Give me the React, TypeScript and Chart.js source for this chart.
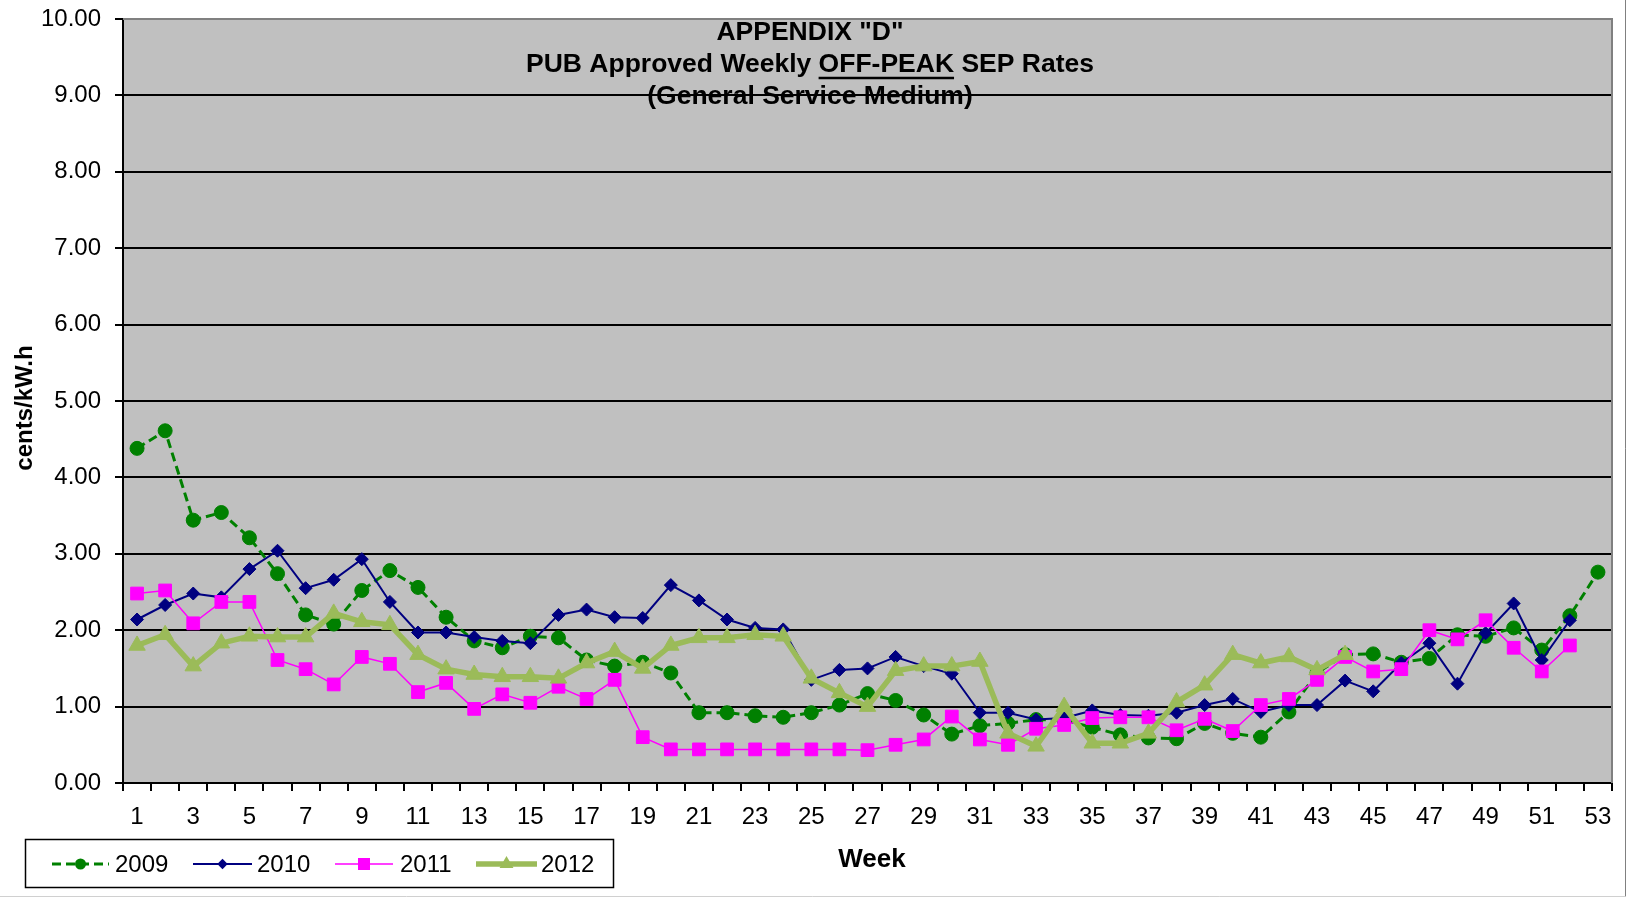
import React, { useEffect, useRef } from 'react';
import { Chart, registerables } from 'chart.js';

Chart.register(...registerables);

const FONT = "'Liberation Sans', Arial, Helvetica, sans-serif";

const weeks = ['1', '2', '3', '4', '5', '6', '7', '8', '9', '10', '11', '12', '13', '14', '15', '16', '17', '18', '19', '20', '21', '22', '23', '24', '25', '26', '27', '28', '29', '30', '31', '32', '33', '34', '35', '36', '37', '38', '39', '40', '41', '42', '43', '44', '45', '46', '47', '48', '49', '50', '51', '52', '53'];

const rates2009 = [4.38, 4.61, 3.44, 3.54, 3.21, 2.74, 2.20, 2.08, 2.52, 2.78, 2.56, 2.17, 1.86, 1.77, 1.92, 1.90, 1.61, 1.53, 1.58, 1.44, 0.92, 0.92, 0.88, 0.86, 0.92, 1.02, 1.17, 1.08, 0.89, 0.64, 0.75, 0.78, 0.83, 0.82, 0.73, 0.63, 0.59, 0.58, 0.78, 0.65, 0.60, 0.93, 1.44, 1.68, 1.69, 1.58, 1.63, 1.94, 1.92, 2.03, 1.74, 2.19, 2.76];
const rates2010 = [2.14, 2.33, 2.48, 2.43, 2.80, 3.04, 2.55, 2.66, 2.93, 2.37, 1.97, 1.97, 1.91, 1.86, 1.83, 2.20, 2.27, 2.17, 2.16, 2.59, 2.39, 2.14, 2.03, 2.01, 1.35, 1.48, 1.50, 1.65, 1.53, 1.43, 0.92, 0.92, 0.83, 0.85, 0.95, 0.89, 0.88, 0.92, 1.02, 1.10, 0.93, 1.02, 1.02, 1.34, 1.20, 1.57, 1.83, 1.30, 1.96, 2.35, 1.61, 2.13, null];
const rates2011 = [2.48, 2.52, 2.09, 2.37, 2.37, 1.61, 1.49, 1.29, 1.65, 1.56, 1.19, 1.31, 0.97, 1.16, 1.05, 1.26, 1.10, 1.35, 0.60, 0.44, 0.44, 0.44, 0.44, 0.44, 0.44, 0.44, 0.43, 0.50, 0.57, 0.87, 0.57, 0.50, 0.71, 0.76, 0.85, 0.86, 0.86, 0.69, 0.84, 0.68, 1.02, 1.10, 1.35, 1.65, 1.46, 1.49, 2.00, 1.88, 2.13, 1.77, 1.46, 1.80, null];
const rates2012 = [1.80, 1.94, 1.53, 1.83, 1.92, 1.91, 1.91, 2.22, 2.11, 2.07, 1.68, 1.49, 1.42, 1.39, 1.39, 1.37, 1.57, 1.72, 1.50, 1.80, 1.90, 1.90, 1.94, 1.92, 1.37, 1.18, 1.00, 1.47, 1.53, 1.53, 1.59, 0.65, 0.48, 1.00, 0.52, 0.52, 0.65, 1.06, 1.28, 1.68, 1.57, 1.65, 1.48, 1.68, null, null, null, null, null, null, null, null, null];

const seriesLabels = ['2009', '2010', '2011', '2012'];

const titleTop = 'APPENDIX "D"';
const titleMidA = 'PUB Approved Weekly ';
const titleMidB = 'OFF-PEAK';
const titleMidC = ' SEP Rates';
const titleBottom = '(General Service Medium)';
const yAxisTitle = 'cents/kW.h';
const xAxisTitle = 'Week';

function drawMarker(ctx: CanvasRenderingContext2D, style: string, x: number, y: number, r: number, color: string) {
  ctx.save();
  ctx.setLineDash([]);
  ctx.fillStyle = color;
  ctx.beginPath();
  if (style === 'circle') {
    ctx.arc(x, y, r, 0, Math.PI * 2);
  } else if (style === 'rectRot') {
    ctx.moveTo(x, y - r);
    ctx.lineTo(x + r, y);
    ctx.lineTo(x, y + r);
    ctx.lineTo(x - r, y);
    ctx.closePath();
  } else if (style === 'rect') {
    const s = r * Math.SQRT1_2;
    ctx.rect(x - s, y - s, 2 * s, 2 * s);
  } else if (style === 'triangle') {
    for (let i = 0; i < 3; i++) {
      const a = (i * 2 * Math.PI) / 3;
      const px = x + Math.sin(a) * r;
      const py = y - Math.cos(a) * r;
      if (i === 0) ctx.moveTo(px, py);
      else ctx.lineTo(px, py);
    }
    ctx.closePath();
  }
  ctx.fill();
  ctx.restore();
}

const backgroundPlugin = {
  id: 'bgPlot',
  beforeDraw(chart: any) {
    const { ctx, chartArea, width, height } = chart;
    ctx.save();
    ctx.fillStyle = '#ffffff';
    ctx.fillRect(0, 0, width, height);
    ctx.fillStyle = '#C0C0C0';
    ctx.fillRect(chartArea.left, chartArea.top, chartArea.right - chartArea.left, chartArea.bottom - chartArea.top);
    ctx.restore();
  },
  beforeDatasetsDraw(chart: any) {
    const { ctx, chartArea } = chart;
    ctx.save();
    ctx.strokeStyle = '#808080';
    ctx.lineWidth = 2;
    ctx.beginPath();
    ctx.moveTo(chartArea.left, chartArea.top);
    ctx.lineTo(chartArea.right, chartArea.top);
    ctx.lineTo(chartArea.right, chartArea.bottom);
    ctx.stroke();
    ctx.restore();
  },
};

const legendMarkerRadius = [5.5, 5.2, 8.5, 8];
const legendSlots = [
  { x0: 52, x1: 109, tx: 115 },
  { x0: 193, x1: 252, tx: 257 },
  { x0: 335, x1: 393, tx: 400 },
  { x0: 476, x1: 537, tx: 541 },
];

const overlayPlugin = {
  id: 'overlay',
  afterDraw(chart: any) {
    const { ctx, width, height } = chart;
    ctx.save();
    // outer chart border
    ctx.strokeStyle = '#808080';
    ctx.lineWidth = 1;
    ctx.beginPath();
    ctx.moveTo(width - 1.5, 0);
    ctx.lineTo(width - 1.5, height - 1.5);
    ctx.stroke();
    ctx.strokeStyle = '#D0D0D0';
    ctx.beginPath();
    ctx.moveTo(0, height - 1.5);
    ctx.lineTo(width - 1.5, height - 1.5);
    ctx.stroke();

    // title inside plot
    ctx.fillStyle = '#000';
    ctx.font = `bold 26.5px ${FONT}`;
    ctx.textBaseline = 'middle';
    ctx.textAlign = 'center';
    const cx = 810;
    ctx.fillText(titleTop, cx, 33);
    const wa = ctx.measureText(titleMidA).width;
    const wb = ctx.measureText(titleMidB).width;
    const wc = ctx.measureText(titleMidC).width;
    const start = cx - (wa + wb + wc) / 2;
    ctx.textAlign = 'left';
    ctx.fillText(titleMidA, start, 65);
    ctx.fillText(titleMidB, start + wa, 65);
    ctx.fillText(titleMidC, start + wa + wb, 65);
    ctx.strokeStyle = '#000';
    ctx.lineWidth = 2.5;
    ctx.beginPath();
    ctx.moveTo(start + wa, 78);
    ctx.lineTo(start + wa + wb, 78);
    ctx.stroke();
    ctx.textAlign = 'center';
    ctx.fillText(titleBottom, cx, 97);

    // axis titles
    ctx.font = `bold 26px ${FONT}`;
    ctx.textAlign = 'center';
    ctx.textBaseline = 'middle';
    ctx.fillText(xAxisTitle, 872, 860);
    ctx.save();
    ctx.translate(25, 408);
    ctx.rotate(-Math.PI / 2);
    ctx.font = `bold 24px ${FONT}`;
    ctx.fillText(yAxisTitle, 0, 0);
    ctx.restore();

    // legend
    ctx.strokeStyle = '#000';
    ctx.lineWidth = 1.5;
    ctx.strokeRect(25.5, 839.5, 588, 48);
    const ly = 864;
    ctx.font = `24px ${FONT}`;
    ctx.textAlign = 'left';
    ctx.textBaseline = 'middle';
    chart.data.datasets.forEach((ds: any, i: number) => {
      const it = legendSlots[i];
      ctx.save();
      ctx.strokeStyle = ds.borderColor;
      ctx.lineWidth = ds.borderWidth;
      ctx.setLineDash(ds.borderDash || []);
      ctx.beginPath();
      ctx.moveTo(it.x0, ly);
      ctx.lineTo(it.x1, ly);
      ctx.stroke();
      ctx.restore();
      drawMarker(ctx, ds.pointStyle, (it.x0 + it.x1) / 2, ly, legendMarkerRadius[i], ds.borderColor);
      ctx.fillStyle = '#000';
      ctx.fillText(ds.label, it.tx, ly + 1);
    });
    ctx.restore();
  },
};

export default function App() {
  const ref = useRef<HTMLCanvasElement>(null);
  useEffect(() => {
    document.body.style.margin = '0';
    const canvas = ref.current;
    if (!canvas) return;
    const chart = new Chart(canvas, {
      type: 'line',
      data: {
        labels: weeks,
        datasets: [
          {
            label: seriesLabels[0],
            data: rates2009,
            borderColor: '#008000',
            backgroundColor: '#008000',
            borderWidth: 3,
            borderDash: [9, 5],
            pointStyle: 'circle',
            pointRadius: 7,
            pointBorderWidth: 1,
            pointBackgroundColor: '#008000',
            pointBorderColor: '#008000',
            order: 4,
          },
          {
            label: seriesLabels[1],
            data: rates2010,
            borderColor: '#000080',
            backgroundColor: '#000080',
            borderWidth: 2,
            pointStyle: 'rectRot',
            pointRadius: 6.5,
            pointBorderWidth: 1,
            pointBackgroundColor: '#000080',
            pointBorderColor: '#000080',
            order: 3,
          },
          {
            label: seriesLabels[2],
            data: rates2011,
            borderColor: '#FF00FF',
            backgroundColor: '#FF00FF',
            borderWidth: 1.5,
            pointStyle: 'rect',
            pointRadius: 9,
            pointBorderWidth: 1,
            pointBackgroundColor: '#FF00FF',
            pointBorderColor: '#FF00FF',
            order: 2,
          },
          {
            label: seriesLabels[3],
            data: rates2012,
            borderColor: '#9BBB59',
            backgroundColor: '#9BBB59',
            borderWidth: 5.5,
            pointStyle: 'triangle',
            pointRadius: 9.5,
            pointBorderWidth: 1,
            pointBackgroundColor: '#9BBB59',
            pointBorderColor: '#9BBB59',
            order: 1,
          },
        ] as any,
      },
      options: {
        animation: false,
        responsive: false,
        devicePixelRatio: 1,
        layout: { padding: { top: 19, right: 15, left: 0, bottom: 0 } },
        plugins: {
          legend: { display: false },
          tooltip: { enabled: false },
          title: { display: false },
        },
        elements: { line: { tension: 0 } },
        scales: {
          x: {
            type: 'category',
            offset: true,
            grid: {
              offset: true,
              drawOnChartArea: false,
              drawTicks: true,
              tickLength: 8,
              color: '#000',
              lineWidth: 2,
            },
            border: { display: true, color: '#000', width: 2 },
            ticks: {
              autoSkip: false,
              maxRotation: 0,
              minRotation: 0,
              padding: 12,
              color: '#000',
              font: { family: FONT, size: 24 },
              callback: (_v: any, i: number) => (i % 2 === 0 ? weeks[i] : ''),
            },
            title: { display: false },
            afterFit: (scale: any) => {
              scale.height = 115;
              scale.paddingLeft = 0;
              scale.paddingRight = 0;
            },
          },
          y: {
            min: 0,
            max: 10,
            ticks: {
              stepSize: 1,
              padding: 14,
              color: '#000',
              font: { family: FONT, size: 24 },
              callback: (v: any) => Number(v).toFixed(2),
            },
            grid: {
              color: (c: any) => (c.tick && c.tick.value === 10 ? '#808080' : '#000'),
              tickColor: '#000',
              lineWidth: 2,
              tickLength: 8,
              drawTicks: true,
            },
            border: { display: true, color: '#000', width: 2 },
            title: { display: false },
            afterFit: (scale: any) => {
              scale.width = 123;
              scale.paddingTop = 0;
              scale.paddingBottom = 0;
            },
          },
        },
      } as any,
      plugins: [backgroundPlugin, overlayPlugin],
    });
    return () => chart.destroy();
  }, []);
  return (
    <div style={{ width: 1627, height: 898, position: 'relative' }}>
      <canvas ref={ref} width={1627} height={898} style={{ display: 'block' }} />
    </div>
  );
}
